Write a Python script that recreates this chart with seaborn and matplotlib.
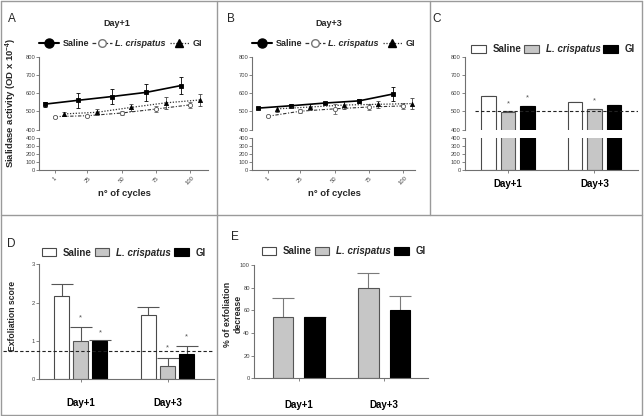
import numpy as np
import pandas as pd
import matplotlib
matplotlib.use("Agg")
import matplotlib.pyplot as plt
import seaborn as sns
from matplotlib.lines import Line2D
from matplotlib.patches import Patch

# ---------------- data ----------------
cycles = [1, 25, 50, 75, 100]
cycle_labels = ["1", "25", "50", "75", "100"]
groups = ["Saline", "L. crispatus", "GI"]
days = ["Day+1", "Day+3"]

# Panel A (Day+1) sialidase activity over cycles
sal_d1 = [540, 561, 582, 605, 642]
sal_d1_err = [14, 43, 39, 48, 48]
lc_d1 = [471, 476, 491, 513, 536]
lc_d1_err = [6, 5, 9, 14, 18]
gi_d1 = [486, 495, 522, 547, 563]
gi_d1_err = [13, 16, 19, 34, 32]

# Panel B (Day+3)
sal_d3 = [518, 531, 546, 558, 596]
sal_d3_err = [5, 8, 8, 13, 41]
lc_d3 = [473, 501, 514, 524, 530]
lc_d3_err = [3, 10, 26, 16, 18]
gi_d3 = [514, 524, 535, 539, 543]
gi_d3_err = [17, 19, 20, 20, 30]

# Panel C (sialidase bars)
sial_sal = [584, 551]
sial_sal_err = [2, 2]
sial_lc = [498, 511]
sial_lc_err = [2, 2]
sial_gi = [530, 535]
sial_gi_err = [2, 2]
sial_baseline = 500
sial_stars = [(1, 0, 543), (2, 0, 574), (1, 1, 557)]  # (group, day, y)

# Panel D (exfoliation score)
exf_sal = [2.17, 1.68]
exf_sal_err = [0.31, 0.20]
exf_lc = [1.00, 0.35]
exf_lc_err = [0.37, 0.20]
exf_gi = [1.00, 0.67]
exf_gi_err = [0.02, 0.21]
exf_baseline = 0.75
exf_stars = [(1, 0, 1.59), (2, 0, 1.20), (1, 1, 0.81), (2, 1, 1.11)]

# Panel E (% exfoliation decrease)
dec_lc = [54, 80]
dec_lc_err = [16.5, 12.5]
dec_gi = [54, 60]
dec_gi_err = [0.3, 12.5]

# ---------------- style ----------------
W, H, DPI = 644, 416, 100
sns.set_theme(style="ticks")
plt.rcParams["font.family"] = ["Liberation Sans", "DejaVu Sans"]
plt.rcParams["mathtext.fontset"] = "custom"
plt.rcParams["mathtext.rm"] = "Liberation Sans"
plt.rcParams["mathtext.bf"] = "Liberation Sans:bold"
plt.rcParams["mathtext.it"] = "Liberation Sans:italic"

FACE = {"Saline": "white", "L. crispatus": "#c6c6c6", "GI": "black"}
EDGE = {"Saline": "#4a4a4a", "L. crispatus": "#555555", "GI": "black"}
SPINE = "#707070"
BORDER = "#9a9a9a"
DODGE = [-7, 0, 7]
TICK_FS = 4.2

fig = plt.figure(figsize=(W / DPI, H / DPI), dpi=DPI)
fig.patch.set_facecolor("white")


def box(x0, y0, x1, y1):
    return fig.add_axes([x0 / W, 1 - y1 / H, (x1 - x0) / W, (y1 - y0) / H])


def style_axis(ax, bottom=True):
    sns.despine(ax=ax, top=True, right=True, bottom=not bottom)
    for s in ax.spines.values():
        s.set_color(SPINE)
        s.set_linewidth(0.8)
    ax.tick_params(axis="both", length=2, width=0.6, color=SPINE,
                   labelsize=TICK_FS, labelcolor="#444444", pad=1)
    ax.set_facecolor("none")
    ax.grid(False)
    if not bottom:
        ax.tick_params(axis="x", bottom=False, labelbottom=False)


def ftext(x, y, s, **kw):
    fig.text(x / W, 1 - y / H, s, **kw)


# ---------------- frame lines ----------------
def fline(x0, y0, x1, y1):
    fig.add_artist(Line2D([x0 / W, x1 / W], [1 - y0 / H, 1 - y1 / H],
                          transform=fig.transFigure, color=BORDER, lw=1.0))

fline(1, 1, 642, 1)
fline(1, 415, 642, 415)
fline(1, 1, 1, 415)
fline(642, 1, 642, 415)
fline(1, 215, 642, 215)
fline(217, 1, 217, 415)
fline(430, 1, 430, 215)

# ---------------- line panels ----------------
LINE_STYLE = [
    dict(color="black", linestyle="-", lw=1.2, marker="s", ms=2.6,
         mfc="black", mec="black", ecolor="black"),
    dict(color="#333333", linestyle=(0, (3, 1.5, 1, 1.5)), lw=0.8, marker="o", ms=3.0,
         mfc="white", mec="#555555", ecolor="#666666"),
    dict(color="#333333", linestyle=(0, (1, 1.3)), lw=0.9, marker="^", ms=3.0,
         mfc="black", mec="black", ecolor="#444444"),
]


def line_panel(x0, x1, xlim, series, title, title_x, letter, letter_x):
    up = box(x0, 57, x1, 129.5)
    lo = box(x0, 137.7, x1, 170)
    for (vals, errs), st, off in zip(series, LINE_STYLE, DODGE):
        xs = np.array(cycles, dtype=float) + off
        sns.lineplot(x=xs, y=vals, ax=up, color=st["color"], linestyle=st["linestyle"],
                     lw=st["lw"], marker=st["marker"], markersize=st["ms"],
                     markerfacecolor=st["mfc"], markeredgecolor=st["mec"],
                     markeredgewidth=0.6, errorbar=None, legend=False, zorder=3)
        up.errorbar(xs, vals, yerr=errs, fmt="none", ecolor=st["ecolor"],
                    elinewidth=0.6, capsize=1.6, capthick=0.6, zorder=2)
    for ax in (up, lo):
        ax.set_xlim(*xlim)
    up.set_ylim(400, 800)
    up.set_yticks([400, 500, 600, 700, 800])
    lo.set_ylim(0, 400)
    lo.set_yticks([0, 100, 200, 300, 400])
    lo.set_xticks(cycles)
    lo.set_xticklabels(cycle_labels, rotation=45, ha="center", va="top")
    style_axis(up, bottom=False)
    style_axis(lo, bottom=True)
    lo.tick_params(axis="x", pad=2)
    up.set_xlabel("")
    up.set_ylabel("")
    lo.set_xlabel("")
    lo.set_ylabel("")
    ftext(title_x, 23, title, ha="center", va="center", fontsize=6.5, fontweight="bold")
    ftext((x0 + x1) / 2 + 1, 193, "n° of cycles", ha="center", va="center",
          fontsize=6.8, fontweight="bold")
    ftext(letter_x, 21.7, letter, ha="left", va="baseline", fontsize=8.5)
    handles = [
        Line2D([], [], color="black", lw=1.5, marker="o", ms=6.5, mfc="black", mec="black"),
        Line2D([], [], color="#333333", lw=0.9, linestyle=(0, (3, 1.5, 1, 1.5)), marker="o",
               ms=5.5, mfc="white", mec="#777777"),
        Line2D([], [], color="#333333", lw=0.9, linestyle=(0, (1, 1.3)), marker="^",
               ms=5.5, mfc="black", mec="black"),
    ]
    leg = fig.legend(handles, groups, loc="center left",
                     bbox_to_anchor=(x0 / W, 1 - 43.5 / H), bbox_transform=fig.transFigure,
                     ncol=3, frameon=False, borderpad=0, borderaxespad=0,
                     handlelength=2.2, handletextpad=0.35, columnspacing=0.4,
                     prop={"weight": "bold", "size": 6.5})
    leg.get_texts()[1].set_style("italic")
    return up, lo


line_panel(39.3, 208, (-10.2, 113),
           [(sal_d1, sal_d1_err), (lc_d1, lc_d1_err), (gi_d1, gi_d1_err)],
           "Day+1", 116.7, "A", 8)
ftext(11.7, 103.3, r"Sialidase activity (OD x 10$^{\mathbf{-4}}$)", rotation=90,
      ha="center", va="center", fontsize=6.8, fontweight="bold")

line_panel(252.3, 415, (-10.3, 109),
           [(sal_d3, sal_d3_err), (lc_d3, lc_d3_err), (gi_d3, gi_d3_err)],
           "Day+3", 328.3, "B", 227)


# ---------------- bar panels ----------------
def bar_df(cols, names):
    rows = []
    for g, vals in zip(names, cols):
        for d, v in zip(days, vals):
            rows.append((d, g, v))
    return pd.DataFrame(rows, columns=["day", "group", "value"])


def draw_bars(ax, df, hue_order, errs, width, gap, capsize, ecolor="#555555"):
    sns.barplot(data=df, x="day", y="value", hue="group", order=days,
                hue_order=hue_order, palette=FACE, width=width, gap=gap,
                linewidth=0.8, errorbar=None, legend=False, ax=ax, zorder=2)
    for cont, g, ee in zip(ax.containers, hue_order, errs):
        for p, e in zip(cont.patches, ee):
            p.set_edgecolor(EDGE[g])
            cx = p.get_x() + p.get_width() / 2
            eb = ax.errorbar([cx], [p.get_height()], yerr=[[0], [e]], fmt="none",
                             ecolor=ecolor, elinewidth=0.8, capsize=capsize,
                             capthick=0.8, zorder=1.5)
            eb.lines[1][0].set_visible(False)
    ax.set_xlabel("")
    ax.set_ylabel("")


def stars(ax, star_list):
    for gi, di, y in star_list:
        p = ax.containers[gi].patches[di]
        ax.text(p.get_x() + p.get_width() / 2, y, "*", ha="center", va="center",
                fontsize=5.5, color="#555555", zorder=4)


def bar_legend(x_left, y_center, fs=7):
    handles = [Patch(facecolor=FACE[g], edgecolor=EDGE[g], lw=0.8) for g in groups]
    leg = fig.legend(handles, groups, loc="center left",
                     bbox_to_anchor=(x_left / W, 1 - y_center / H),
                     bbox_transform=fig.transFigure, ncol=3, frameon=False,
                     borderpad=0, borderaxespad=0, handlelength=1.5, handleheight=0.85,
                     handletextpad=0.7, columnspacing=0.3,
                     prop={"weight": "bold", "size": fs})
    leg.get_texts()[1].set_style("italic")


# Panel C
c_df = bar_df([sial_sal, sial_lc, sial_gi], groups)
c_errs = [sial_sal_err, sial_lc_err, sial_gi_err]
cu = box(465, 57, 638, 129.5)
cl = box(465, 137.7, 638, 170)
for ax in (cu, cl):
    draw_bars(ax, c_df, groups, c_errs, width=0.672, gap=0.255, capsize=3.5)
    ax.set_xlim(-0.497, 1.503)
cu.set_ylim(400, 800)
cu.set_yticks([400, 500, 600, 700, 800])
cl.set_ylim(0, 400)
cl.set_yticks([0, 100, 200, 300, 400])
style_axis(cu, bottom=False)
style_axis(cl, bottom=True)
cl.set_xticks([0, 1])
cl.set_xticklabels(days, fontsize=7, fontweight="bold", color="black")
cl.tick_params(axis="x", pad=4.5, labelcolor="black", labelsize=7)
cu.axhline(sial_baseline, xmin=0.058, xmax=1.0, color="#222222", lw=0.8,
           ls=(0, (3, 2)), zorder=3)
stars(cu, sial_stars)
bar_legend(471, 49.5)
ftext(432, 21.7, "C", ha="left", va="baseline", fontsize=8.5)

# Panel D
d_df = bar_df([exf_sal, exf_lc, exf_gi], groups)
d_errs = [exf_sal_err, exf_lc_err, exf_gi_err]
dax = box(39.3, 264.3, 214, 379.3)
draw_bars(dax, d_df, groups, d_errs, width=0.66, gap=0.21, capsize=8)
dax.set_xlim(-0.479, 1.536)
dax.set_ylim(0, 3)
dax.set_yticks([0, 1, 2, 3])
style_axis(dax)
dax.set_xticks([0, 1])
dax.set_xticklabels(days, fontsize=7, fontweight="bold")
dax.tick_params(axis="x", pad=11.5, labelcolor="black", labelsize=7)
dax.axhline(exf_baseline, xmin=-0.21, xmax=1.0, color="#222222", lw=0.8,
            ls=(0, (3, 2)), zorder=3, clip_on=False)
stars(dax, exf_stars)
bar_legend(41.7, 252.7)
ftext(6.7, 247.3, "D", ha="left", va="baseline", fontsize=8.5)
ftext(12.5, 316, "Exfoliation score", rotation=90, ha="center", va="center",
      fontsize=6.2, fontweight="bold")

# Panel E
e_df = bar_df([dec_lc, dec_gi], groups[1:])
e_errs = [dec_lc_err, dec_gi_err]
eax = box(254, 265, 428, 378.3)
draw_bars(eax, e_df, groups[1:], e_errs, width=0.742, gap=0.345, capsize=8,
          ecolor="#7a7a7a")
eax.set_xlim(-0.525, 1.513)
eax.set_ylim(0, 100)
eax.set_yticks([0, 20, 40, 60, 80, 100])
style_axis(eax)
eax.set_xticks([0, 1])
eax.set_xticklabels(days, fontsize=7, fontweight="bold")
eax.tick_params(axis="x", pad=13.5, labelcolor="black", labelsize=7)
bar_legend(261.7, 251)
ftext(230.7, 240, "E", ha="left", va="baseline", fontsize=8.5)
ftext(233, 314, "% of exfoliation\ndecrease", rotation=90, ha="center", va="center",
      fontsize=6.3, fontweight="bold", linespacing=1.15)

fig.savefig("out.png", dpi=DPI, facecolor="white")
